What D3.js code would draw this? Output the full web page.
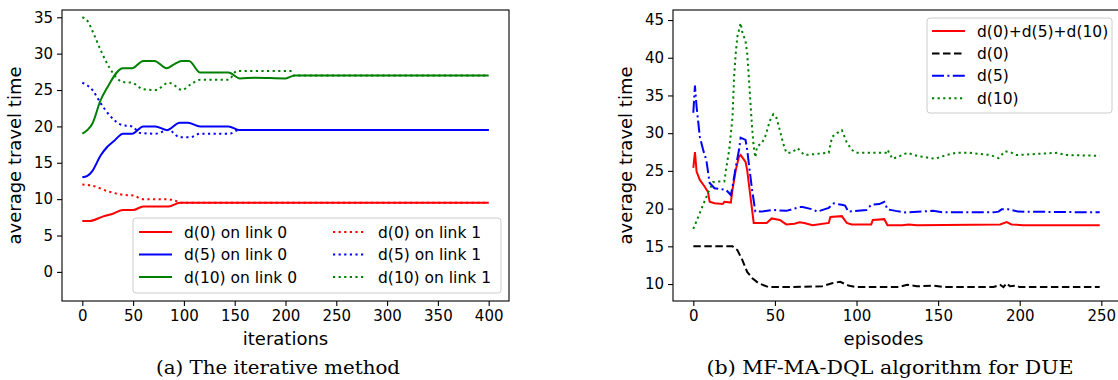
<!DOCTYPE html>
<html>
<head>
<meta charset="utf-8">
<script src="https://cdn.jsdelivr.net/npm/d3@7"></script>
<style>
  body { margin: 0; background: #fff; }
  text { font-family: "DejaVu Sans", sans-serif; fill: #000; }
  .caption { font-family: "DejaVu Serif", serif; }
</style>
</head>
<body>
<svg id="chart" width="1118" height="380"></svg>
<script>
// ---- left panel: the iterative method (iteration, value) ----
const d0Link0 = [[0,7],[7,7],[20,7.6],[30,8],[40,8.5],[50,8.5],[60,9],[85,9],[96,9.5],[400,9.5]];
const d0Link1 = [[0,12],[8,11.9],[27,11],[40,10.6],[50,10.5],[60,10],[83,10],[93,9.7],[97,9.5],[400,9.5]];
const d5Link0 = [[0,13],[5,13.2],[10,13.9],[18,16],[24,17.1],[32,18.1],[40,19],[49,19],[60,20],[72,20],[83,19.5],[96,20.5],[104,20.5],[116,20],[144,20],[154,19.5],[400,19.5]];
const d5Link1 = [[0,26],[10,25],[18,23.2],[27,21.5],[39,20.2],[49,20],[57,19.1],[72,19],[85,19.5],[96,18.5],[106,18.5],[116,19],[145,19],[154,19.5],[400,19.5]];
const d10Link0 = [[0,19],[5,19.5],[10,20.4],[18,23.6],[24,25.2],[40,28],[49,28],[60,29],[71,29],[83,28],[90,28.5],[98,29],[105,29],[116,27.4],[144,27.4],[155,26.6],[170,26.7],[200,26.6],[209,27],[400,27]];
const d10Link1 = [[0,35],[5,34.5],[11,32.8],[18,30.5],[27,28],[40,26.1],[49,26],[60,25.1],[72,25],[85,26],[90,25.7],[98,25],[106,25.7],[116,26.4],[144,26.4],[152,27.6],[205,27.6],[208,27],[400,27]];
const iterTicks = [0,50,100,150,200,250,300,350,400];
const leftYTicks = [0,5,10,15,20,25,30,35];

// ---- right panel: MF-MA-DQL (episode, value) ----
const dSum = [[0,25.4],[1,27.5],[2,24.9],[4,23.8],[7,22.9],[9,22.2],[10,20.9],[13,20.7],[18,20.6],[19,20.9],[23,20.8],[24,22.5],[26,25.1],[28,26.9],[29,27.1],[32,26.2],[33,25.1],[35,21.6],[37,18.1],[41,18.1],[45,18.1],[48,18.7],[53,18.5],[57,17.9],[62,18],[65,18.2],[68,18.1],[73,17.8],[83,18.1],[84,18.9],[91,19],[94,18.1],[97,17.9],[109,17.9],[110,18.5],[117,18.6],[119,17.8],[128,17.8],[132,17.9],[137,17.8],[188,17.9],[192,18.2],[195,17.9],[202,17.8],[249,17.8]];
const d0 = [[0,15],[24,15],[27,14.5],[30,13.2],[33,11.6],[36,10.8],[40,10.1],[46,9.6],[57,9.6],[79,9.7],[85,10.1],[90,10.3],[95,9.8],[100,9.6],[126,9.6],[131,9.9],[137,9.7],[147,9.8],[153,9.6],[184,9.6],[188,9.9],[190,9.6],[192,10.1],[194,9.7],[198,9.8],[200,9.6],[249,9.6]];
const d5 = [[0,32.7],[1,36.3],[2,33.5],[4,29.5],[6,27.8],[8,26.4],[10,23.4],[13,22.7],[20,22.5],[23,21.8],[24,22.9],[26,25.5],[28,27.8],[29,29.4],[32,29.1],[33,27.8],[34,26],[36,22.5],[38,19.6],[42,19.6],[48,19.8],[50,19.8],[57,19.7],[65,20.2],[67,20.2],[73,19.9],[76,19.6],[83,20.1],[86,20.7],[91,20.5],[93,20.4],[95,19.6],[106,19.8],[109,20.5],[114,20.6],[117,20.9],[119,19.9],[124,19.7],[130,19.5],[147,19.7],[153,19.5],[184,19.5],[187,19.6],[189,19.9],[193,19.9],[199,19.6],[249,19.5]];
const d10 = [[0,17.3],[9,22.1],[10,22.5],[12,23.5],[16,23.6],[19,23.6],[20,25.1],[22,27.8],[24,32.1],[25,37.5],[26,40.6],[27,42.8],[29,44.6],[30,43.4],[32,42.2],[33,40.6],[34,37.5],[35,34],[36,30.8],[37,28.2],[38,26.8],[39,28.2],[42,28.7],[44,29.5],[47,31.7],[49,32.5],[51,32],[53,30.4],[55,28.7],[57,27.4],[60,27.4],[64,28],[68,27.1],[83,27.4],[85,29.5],[88,30],[91,30.4],[94,28.8],[97,27.8],[100,27.4],[118,27.4],[119,27.8],[122,26.6],[126,26.9],[131,27.4],[137,27],[148,26.6],[155,27.1],[161,27.4],[169,27.4],[182,27.1],[187,26.7],[191,27.6],[194,27.5],[198,27.1],[223,27.4],[228,27.1],[249,27]];
const episodeTicks = [0,50,100,150,200,250];
const rightYTicks = [10,15,20,25,30,35,40,45];

const RED = "#ff0000", BLUE = "#0000ff", GREEN = "#008000", BLACK = "#000000";
const SOLID = null, DOTTED = "2.2,3.4", DASHED = "7.5,3.5", DASHDOT = "12,3.4,2,3.4";

const svg = d3.select("#chart");

function drawPanel(left, xDomain, yDomain, xTicks, yTicks, xLabel, caption, captionLen) {
  const top = 10, bottom = 301, width = 447;
  const x = d3.scaleLinear().domain(xDomain).range([left, left + width]);
  const y = d3.scaleLinear().domain(yDomain).range([bottom, top]);
  const g = svg.append("g");

  // x axis
  g.append("g")
    .attr("transform", "translate(0," + bottom + ")")
    .call(d3.axisBottom(x).tickValues(xTicks).tickSize(5).tickPadding(4).tickFormat(d3.format("d")))
    .call(a => a.select(".domain").remove())
    .selectAll("text").style("font-size", "15px").attr("fill", "#000");

  // y axis
  g.append("g")
    .attr("transform", "translate(" + left + ",0)")
    .call(d3.axisLeft(y).tickValues(yTicks).tickSize(5).tickPadding(4).tickFormat(d3.format("d")))
    .call(a => a.select(".domain").remove())
    .selectAll("text").style("font-size", "15px").attr("fill", "#000");

  g.selectAll(".tick line").attr("stroke", "#000").attr("stroke-width", 1.1);

  g.append("text")
    .attr("x", left + width / 2 + (left > 300 ? -13 : 0)).attr("y", 345)
    .attr("text-anchor", "middle").style("font-size", "18px").text(xLabel);

  g.append("text")
    .attr("transform", "translate(" + (left - 41) + "," + ((top + bottom) / 2) + ") rotate(-90)")
    .attr("text-anchor", "middle").style("font-size", "18px").text("average travel time");

  g.append("text").attr("class", "caption")
    .attr("x", left + 216 + (left > 300 ? 1 : 0)).attr("y", 374)
    .attr("text-anchor", "middle").style("font-size", "18px")
    .attr("textLength", captionLen).attr("lengthAdjust", "spacingAndGlyphs")
    .text(caption);

  return { g: g, x: x, y: y, top: top, bottom: bottom, width: width, left: left };
}

function drawLine(p, data, color, dash, curve) {
  const line = d3.line()
    .x(d => p.x(d[0]))
    .y(d => p.y(d[1]))
    .curve(curve || d3.curveLinear);
  p.g.append("path")
    .datum(data)
    .attr("fill", "none")
    .attr("stroke", color)
    .attr("stroke-width", 2)
    .attr("stroke-dasharray", dash)
    .attr("d", line);
}

function drawFrame(p) {
  p.g.append("rect")
    .attr("x", p.left).attr("y", p.top)
    .attr("width", p.width).attr("height", p.bottom - p.top)
    .attr("fill", "none").attr("stroke", "#000").attr("stroke-width", 1.1);
}

function legendEntry(g, x0, yc, color, dash, label) {
  g.append("line")
    .attr("x1", x0).attr("x2", x0 + 33).attr("y1", yc).attr("y2", yc)
    .attr("stroke", color).attr("stroke-width", 2).attr("stroke-dasharray", dash);
  g.append("text")
    .attr("x", x0 + 45).attr("y", yc).attr("dy", "0.36em")
    .style("font-size", "15.5px").text(label);
}

// ---- left chart ----
const pa = drawPanel(62, [-20, 420], [-4, 36], iterTicks, leftYTicks, "iterations", "(a) The iterative method", 244);
const smooth = d3.curveMonotoneX;
drawLine(pa, d0Link0, RED, SOLID, smooth);
drawLine(pa, d5Link0, BLUE, SOLID, smooth);
drawLine(pa, d10Link0, GREEN, SOLID, smooth);
drawLine(pa, d0Link1, RED, DOTTED, smooth);
drawLine(pa, d5Link1, BLUE, DOTTED, smooth);
drawLine(pa, d10Link1, GREEN, DOTTED, smooth);
drawFrame(pa);

const legA = pa.g.append("g");
legA.append("rect").attr("x", 133).attr("y", 218).attr("width", 368).attr("height", 75)
  .attr("rx", 3).attr("fill", "#fff").attr("fill-opacity", 0.8).attr("stroke", "#cccccc");
[["d(0) on link 0", RED], ["d(5) on link 0", BLUE], ["d(10) on link 0", GREEN]].forEach((e, i) => {
  legendEntry(legA, 139, 232 + i * 22.5, e[1], SOLID, e[0]);
});
[["d(0) on link 1", RED], ["d(5) on link 1", BLUE], ["d(10) on link 1", GREEN]].forEach((e, i) => {
  legendEntry(legA, 333, 232 + i * 22.5, e[1], DOTTED, e[0]);
});

// ---- right chart ----
const pb = drawPanel(673, [-12.45, 261.45], [7.75, 46.33], episodeTicks, rightYTicks, "episodes", "(b) MF-MA-DQL algorithm for DUE", 367);
drawLine(pb, dSum, RED, SOLID);
drawLine(pb, d0, BLACK, DASHED);
drawLine(pb, d5, BLUE, DASHDOT);
drawLine(pb, d10, GREEN, DOTTED);
drawFrame(pb);

const legB = pb.g.append("g");
legB.append("rect").attr("x", 927).attr("y", 18).attr("width", 185).attr("height", 95)
  .attr("rx", 3).attr("fill", "#fff").attr("fill-opacity", 0.8).attr("stroke", "#cccccc");
[["d(0)+d(5)+d(10)", RED, SOLID], ["d(0)", BLACK, DASHED], ["d(5)", BLUE, DASHDOT], ["d(10)", GREEN, DOTTED]].forEach((e, i) => {
  legendEntry(legB, 932, 31 + i * 22.4, e[1], e[2], e[0]);
});
</script>
</body>
</html>
